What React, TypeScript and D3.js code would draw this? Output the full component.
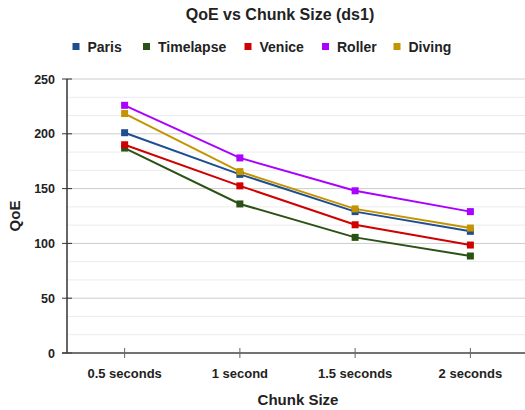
import { useEffect, useRef } from 'react';
import * as d3 from 'd3';

const categories = ['0.5 seconds', '1 second', '1.5 seconds', '2 seconds'];
const seriesNames = ['Paris', 'Timelapse', 'Venice', 'Roller', 'Diving'];
const colors = ['#1f4e8f', '#2b5215', '#d00000', '#aa00ff', '#c49400'];
const paris = [201, 163, 129, 111];
const timelapse = [187, 136, 105.5, 88.5];
const venice = [190, 152.5, 117, 98.5];
const roller = [226, 178, 148, 129];
const diving = [218.5, 165.5, 131.5, 114];
const yTicks = [0, 50, 100, 150, 200, 250];

const allSeries = [paris, timelapse, venice, roller, diving];

const App = () => {
    const ref = useRef<SVGSVGElement>(null);

    useEffect(() => {
        const svg = d3.select(ref.current);
        svg.selectAll('*').remove();
        const width = 525;
        const height = 410;
        const margin = { top: 79, right: -3, bottom: 57, left: 67 };
        const font = 'Liberation Sans, Arial, sans-serif';

        const x = d3.scaleBand()
            .domain(categories)
            .range([margin.left, width - margin.right]);

        const y = d3.scaleLinear()
            .domain([0, 250])
            .range([height - margin.bottom, margin.top]);

        // minor gridlines (2 between each major)
        const minor: number[] = [];
        for (let i = 0; i < yTicks.length - 1; i++) {
            const step = (yTicks[i + 1] - yTicks[i]) / 3;
            minor.push(yTicks[i] + step, yTicks[i] + 2 * step);
        }
        svg.append('g')
            .selectAll('line').data(minor).enter().append('line')
            .attr('x1', margin.left).attr('x2', width)
            .attr('y1', d => y(d)).attr('y2', d => y(d))
            .attr('stroke', '#ececec').attr('stroke-width', 1);

        svg.append('g')
            .selectAll('line').data(yTicks.slice(1)).enter().append('line')
            .attr('x1', margin.left).attr('x2', width)
            .attr('y1', d => y(d)).attr('y2', d => y(d))
            .attr('stroke', '#cccccc').attr('stroke-width', 1);

        // y axis
        const yAxis = svg.append('g');
        yAxis.append('line')
            .attr('x1', margin.left).attr('x2', margin.left)
            .attr('y1', y(250)).attr('y2', y(0))
            .attr('stroke', '#333').attr('stroke-width', 1.5);
        yAxis.selectAll('line.tick').data(yTicks).enter().append('line')
            .attr('class', 'tick')
            .attr('x1', margin.left - 5).attr('x2', margin.left + 5)
            .attr('y1', d => y(d)).attr('y2', d => y(d))
            .attr('stroke', '#333').attr('stroke-width', 1);
        yAxis.selectAll('text').data(yTicks).enter().append('text')
            .attr('x', margin.left - 12)
            .attr('y', d => y(d) + 4.5)
            .attr('text-anchor', 'end')
            .attr('font-family', font).attr('font-weight', 'bold')
            .attr('font-size', 12.5).attr('fill', '#222')
            .text(d => d);

        // x axis
        const xAxis = svg.append('g');
        xAxis.append('line')
            .attr('x1', margin.left - 5).attr('x2', width)
            .attr('y1', y(0)).attr('y2', y(0))
            .attr('stroke', '#444').attr('stroke-width', 1.5);
        xAxis.selectAll('line.tick').data(categories).enter().append('line')
            .attr('class', 'tick')
            .attr('x1', d => x(d)! + x.bandwidth() / 2).attr('x2', d => x(d)! + x.bandwidth() / 2)
            .attr('y1', y(0) - 5).attr('y2', y(0) + 5)
            .attr('stroke', '#666').attr('stroke-width', 1);
        xAxis.selectAll('text').data(categories).enter().append('text')
            .attr('x', d => x(d)! + x.bandwidth() / 2)
            .attr('y', y(0) + 25)
            .attr('text-anchor', 'middle')
            .attr('font-family', font).attr('font-weight', 'bold')
            .attr('font-size', 13).attr('fill', '#222')
            .text(d => d);

        // lines and markers
        const line = d3.line<number>()
            .x((_, i) => x(categories[i])! + x.bandwidth() / 2)
            .y(d => y(d));

        allSeries.forEach((vals, s) => {
            svg.append('path')
                .datum(vals)
                .attr('fill', 'none')
                .attr('stroke', colors[s])
                .attr('stroke-width', 2)
                .attr('d', line);
        });
        allSeries.forEach((vals, s) => {
            svg.append('g')
                .selectAll('rect').data(vals).enter().append('rect')
                .attr('x', (_, i) => x(categories[i])! + x.bandwidth() / 2 - 3.5)
                .attr('y', d => y(d) - 3.5)
                .attr('width', 7).attr('height', 7)
                .attr('fill', colors[s]);
        });

        // legend
        const legendX = [72.5, 143, 244.5, 322, 393.5];
        const legend = svg.append('g');
        seriesNames.forEach((name, i) => {
            legend.append('rect')
                .attr('x', legendX[i]).attr('y', 43)
                .attr('width', 7).attr('height', 7)
                .attr('fill', colors[i]);
            legend.append('text')
                .attr('x', legendX[i] + 15).attr('y', 52)
                .attr('font-family', font).attr('font-weight', 'bold')
                .attr('font-size', 14).attr('fill', '#222')
                .text(name);
        });

        // title and axis labels
        svg.append('text')
            .attr('x', 280).attr('y', 20)
            .attr('text-anchor', 'middle')
            .attr('font-family', font).attr('font-weight', 'bold')
            .attr('font-size', 16).attr('fill', '#222')
            .text('QoE vs Chunk Size (ds1)');
        svg.append('text')
            .attr('x', 298).attr('y', 405)
            .attr('text-anchor', 'middle')
            .attr('font-family', font).attr('font-weight', 'bold')
            .attr('font-size', 15).attr('fill', '#222')
            .text('Chunk Size');
        svg.append('text')
            .attr('transform', `translate(20,${(y(0) + y(250)) / 2}) rotate(-90)`)
            .attr('text-anchor', 'middle')
            .attr('font-family', font).attr('font-weight', 'bold')
            .attr('font-size', 15).attr('fill', '#222')
            .text('QoE');
    }, []);

    return (
        <svg ref={ref} width={525} height={410}
            style={{ position: 'absolute', left: 0, top: 0, background: '#fff' }} />
    );
};

export default App;
